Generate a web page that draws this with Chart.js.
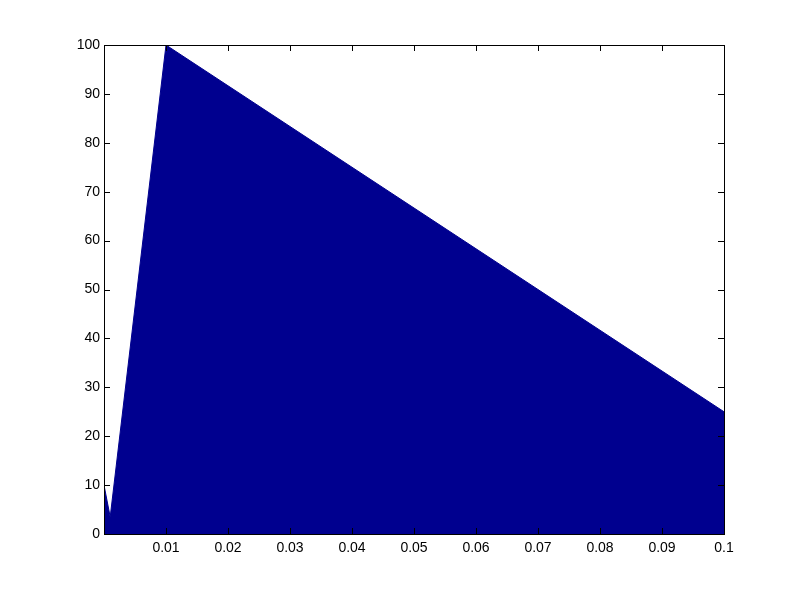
<!DOCTYPE html>
<html>
<head>
<meta charset="utf-8">
<script src="https://cdn.jsdelivr.net/npm/chart.js@4"></script>
<style>
  html, body { margin: 0; padding: 0; background: #fff; }
  #wrap { width: 800px; height: 600px; }
</style>
</head>
<body>
<div id="wrap"><canvas id="areaChart"></canvas></div>
<script>
// Data
const xValues = [0, 0.001, 0.01, 0.1];
const yValues = [10, 3.5, 100, 25];
const xTicks = [0.01, 0.02, 0.03, 0.04, 0.05, 0.06, 0.07, 0.08, 0.09, 0.1];
const yTicks = [0, 10, 20, 30, 40, 50, 60, 70, 80, 90, 100];

const FILL = '#00008f';
const TICK_LEN = 6;

// box round the axes plus inward ticks on all four sides
const boxPlugin = {
    id: 'box',
    afterDatasetsDraw(chart) {
        const { ctx, chartArea: a, scales } = chart;
        ctx.save();
        ctx.strokeStyle = '#000';
        ctx.lineWidth = 1;
        ctx.beginPath();
        xTicks.forEach(v => {
            const px = Math.round(scales.x.getPixelForValue(v)) + 0.5;
            ctx.moveTo(px, a.bottom); ctx.lineTo(px, a.bottom - TICK_LEN);
            ctx.moveTo(px, a.top); ctx.lineTo(px, a.top + TICK_LEN);
        });
        yTicks.forEach(v => {
            const py = Math.round(scales.y.getPixelForValue(v)) + 0.5;
            ctx.moveTo(a.left, py); ctx.lineTo(a.left + TICK_LEN, py);
            ctx.moveTo(a.right, py); ctx.lineTo(a.right - TICK_LEN, py);
        });
        ctx.stroke();
        ctx.strokeRect(Math.round(a.left) + 0.5, Math.round(a.top) + 0.5,
                       Math.round(a.right - a.left), Math.round(a.bottom - a.top));
        ctx.restore();
    }
};

const ctx = document.getElementById('areaChart').getContext('2d');
const chart = new Chart(ctx, {
    type: 'line',
    data: {
        datasets: [{
            data: xValues.map((x, i) => ({ x: x, y: yValues[i] })),
            fill: 'origin',
            backgroundColor: FILL,
            borderColor: FILL,
            borderWidth: 1,
            pointRadius: 0,
            tension: 0
        }]
    },
    options: {
        responsive: true,
        maintainAspectRatio: false,
        animation: false,
        events: [],
        layout: { padding: { left: 0, right: 76, top: 45, bottom: 0 } },
        plugins: { legend: { display: false }, tooltip: { enabled: false } },
        scales: {
            x: {
                type: 'linear',
                min: 0,
                max: 0.1,
                afterBuildTicks: s => { s.ticks = [0].concat(xTicks).map(v => ({ value: v })); },
                afterFit: s => { s.height = 66; },
                grid: { display: false, drawTicks: false },
                border: { display: false },
                ticks: {
                    color: '#000',
                    padding: 6,
                    maxRotation: 0,
                    autoSkip: false,
                    font: { family: 'Liberation Sans, Arial, sans-serif', size: 14 },
                    callback: v => (v === 0 ? '' : String(Number(v.toFixed(2))))
                }
            },
            y: {
                min: 0,
                max: 100,
                afterBuildTicks: s => { s.ticks = yTicks.map(v => ({ value: v })); },
                afterFit: s => { s.width = 104; },
                grid: { display: false, drawTicks: false },
                border: { display: false },
                ticks: {
                    color: '#000',
                    padding: 4,
                    autoSkip: false,
                    font: { family: 'Liberation Sans, Arial, sans-serif', size: 14 }
                }
            }
        }
    },
    plugins: [boxPlugin]
});
</script>
</body>
</html>
